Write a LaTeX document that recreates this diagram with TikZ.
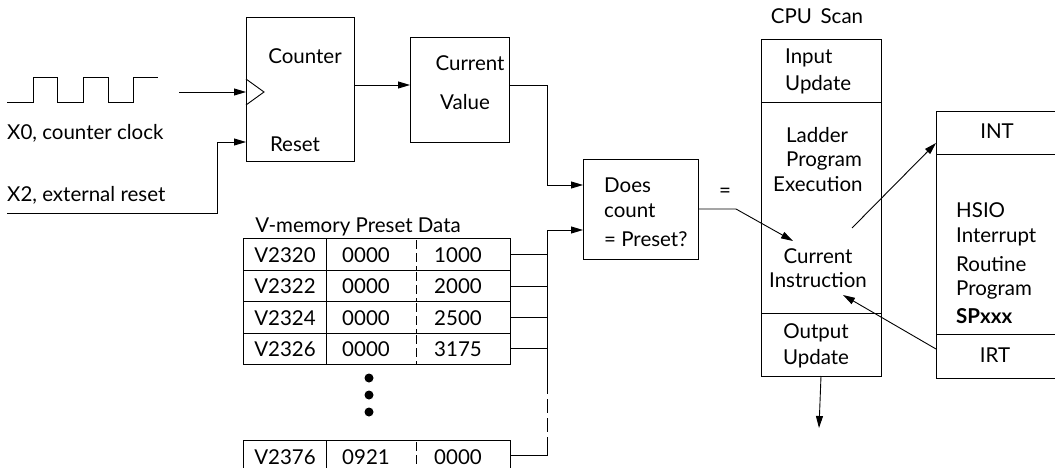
\documentclass[tikz,border=0pt]{standalone}
\usepackage{fontspec}
\setmainfont{Lato}
\usetikzlibrary{arrows.meta,calc}
\begin{document}
\begin{tikzpicture}[x=1pt,y=-1pt,
  box/.style={draw, line width=0.9pt, inner sep=0pt, outer sep=0pt, anchor=north west},
  txt/.style={inner sep=0pt, font=\fontsize{20.5}{24}\selectfont},
  ltxt/.style={txt, anchor=west},
  ln/.style={line width=0.9pt},
  arr/.style={ln, -{Triangle[length=12pt,width=7pt]}},
  dashv/.style={ln, dash pattern=on 14pt off 5pt}]
\useasboundingbox (0,0) rectangle (1055,468);
\clip (0,0) rectangle (1055,468);

% square wave
\draw[ln] (7,102) -- (33,102) -- (33,77) -- (57,77) -- (57,102) -- (83,102) -- (83,77) -- (108,77) -- (108,102) -- (133,102) -- (133,77) -- (158,77);
\node[ltxt] (x0) at (7,133) {X0, counter clock};
\node[ltxt] (x2) at (7,195) {X2, external reset};

% counter
\node[box, minimum width=108pt, minimum height=144pt] (counter) at (246,17) {};
\draw[ln] (counter.north west |- 0,79) -- (264,92) -- (counter.north west |- 0,105);
\node[txt] (ctr) at (305,56) {Counter};
\node[txt] (rst) at (295,144) {Reset};
\coordinate (clkin) at (179,92);
\draw[arr] (clkin) -- (clkin -| counter.west);
\coordinate (rsin) at (7,213);
\coordinate (rscorner) at (217,213);
\draw[arr] (rsin) -- (rscorner) -- (217,142) -- (counter.west |- 0,142);

% current value
\node[box, minimum width=99pt, minimum height=105pt] (cv) at (410,37) {};
\node[txt] (cvt1) at (470,63) {Current};
\node[txt] (cvt2) at (465,102) {Value};
\draw[arr] (counter.east |- 0,85) -- (cv.west |- 0,85);

% compare
\node[box, minimum width=115pt, minimum height=100pt] (cmp) at (583,159) {};
\node[ltxt] (c1) at (604,185) {Does};
\node[ltxt] (c2) at (604,211) {count};
\node[ltxt] (c3) at (604,239) {= Preset?};
\draw[arr] (cv.east |- 0,85) -- (547,85) -- (547,185) -- (cmp.west |- 0,185);

% CPU scan
\node[txt] (cpuT) at (817,16) {CPU\, Scan};
\node[box, minimum width=120pt, minimum height=337pt] (cpu) at (761,39) {};
\draw[ln] (cpu.west |- 0,102) -- (cpu.east |- 0,102);
\draw[ln] (cpu.west |- 0,313) -- (cpu.east |- 0,313);
\node[ltxt] (in1) at (785,58) {Input};
\node[ltxt] (in2) at (785,85) {Update};
\node[ltxt] (ld1) at (786,135) {Ladder};
\node[ltxt] (ld2) at (786,161) {Program};
\node[ltxt] (ld3) at (773,184) {Execution};
\node[txt] (ci1) at (818,256) {Current};
\node[txt] (ci2) at (818,280) {Instruction};
\node[txt] (ou1) at (816,333) {Output};
\node[txt] (ou2) at (816,359) {Update};
\coordinate (outend) at (819,428);
\draw[arr] (cpu.south) -- (outend);

% equal output
\node[txt] (eq) at (725,193) {=};
\coordinate (eqbend) at (736,209);
\coordinate (citip) at (793,241);
\draw[arr] (cmp.east |- 0,209) -- (eqbend) -- (citip);

% interrupt box
\node[box, minimum width=130pt, minimum height=267pt] (isr) at (936,111) {};
\draw[ln] (isr.west |- 0,154) -- (1060,154);
\draw[ln] (isr.west |- 0,334) -- (1060,334);
\node[txt] (int) at (997,131) {INT};
\node[ltxt] (h1) at (956,210) {HSIO};
\node[ltxt] (h2) at (956,237) {Interrupt};
\node[ltxt] (h3) at (956,264) {Routine};
\node[ltxt] (h4) at (956,290) {Program};
\node[ltxt] (h5) at (956,316) {\bfseries SPxxx};
\node[txt] (irt) at (995,355) {IRT};
\coordinate (intfrom) at (852,228);
\draw[arr] (intfrom) -- (isr.west |- 0,143);
\coordinate (irtto) at (843,295);
\draw[arr] (isr.west |- 0,349) -- (irtto);

% table
\node[txt] (tt) at (358,227) {V-memory Preset Data};
\foreach \n/\ya/\yb/\a/\b/\c in {r1/238/270/V2320/0000/1000, r2/270/301/V2322/0000/2000, r3/301/333/V2324/0000/2500, r4/333/364/V2326/0000/3175, r5/440/472/V2376/0921/0000} {
  \node[box, minimum width=267pt, minimum height={\yb-\ya}] (\n) at (243,\ya) {};
  \draw[ln] (326,\ya) -- (326,\yb);
  \draw[ln, dash pattern=on 9pt off 4pt] (416,\ya+2) -- (416,\yb);
  \node[txt] (\n a) at (285,{(\ya+\yb)/2+1}) {\a};
  \node[txt] (\n b) at (366,{(\ya+\yb)/2+1}) {\b};
  \node[txt] (\n c) at (458,{(\ya+\yb)/2+1}) {\c};
}
\coordinate (r5mid) at (510,455);
\foreach \d in {378,395,412} \fill (369,\d) circle (4.5pt);

% bus
\coordinate (bustop) at (547,230);
\draw[arr] (547,380) -- (bustop) -- (cmp.west |- bustop);
\draw[dashv] (547,380) -- (547,443);
\draw[ln] (547,443) -- (547,455) -- (r5mid);
\foreach \n/\y in {r1/254, r2/286, r3/317, r4/348}
  \draw[ln] (\n.east |- 0,\y) -- (547,\y);
\end{tikzpicture}
\end{document}
